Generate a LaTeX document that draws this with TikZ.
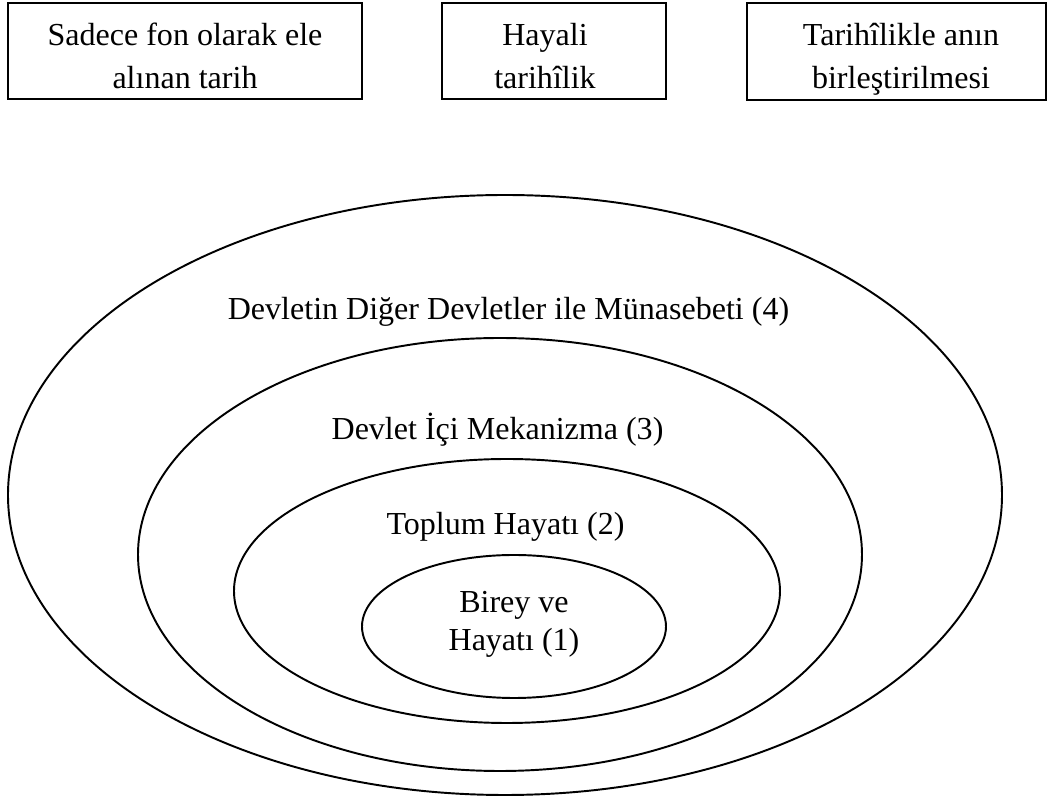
\documentclass[tikz,border=0pt]{standalone}
\usepackage{fontspec}
\setmainfont{Liberation Serif}
\usepackage{tikz}

\begin{document}
\begin{tikzpicture}[x=0.3871pt,y=-0.3871pt,
	kutu/.style={draw,line width=0.75pt,minimum height=37.2pt,inner sep=0pt},
	halka/.style={line width=0.75pt},
	yazi/.style={font=\fontsize{12.4}{16.6}\selectfont,align=center,inner sep=0pt},
	etiket/.style={font=\fontsize{12.4}{14.7}\selectfont,align=center,inner sep=0pt}]
	
	\useasboundingbox (0,0) rectangle (1048,798);
	
	% ust kutular
	\node[kutu,minimum width=137pt] (fon) at (185,51) {};
	\node[kutu,minimum width=86.7pt] (hayal) at (554,51) {};
	\node[kutu,minimum width=115.7pt] (tarih) at (896.5,51.5) {};
	\node[yazi] (fonyazi) at (185,56) {Sadece fon olarak ele\\alınan tarih};
	\node[yazi] (hayalyazi) at (545,56) {Hayali\\tarihîlik};
	\node[yazi] (tarihyazi) at (901,59) {Tarihîlikle anın\\birleştirilmesi};
	
	% ic ice halkalar
	\draw[halka] (505,495) ellipse [x radius=497, y radius=300];
	\draw[halka] (500,554.5) ellipse [x radius=362, y radius=216.5];
	\draw[halka] (507,591) ellipse [x radius=273, y radius=132];
	\draw[halka] (514,626.5) ellipse [x radius=152, y radius=71.5];
	
	\node[etiket,anchor=base] (dort) at (508.5,320) {Devletin Diğer Devletler ile Münasebeti (4)};
	\node[etiket,anchor=base] (uc) at (497.5,440) {Devlet İçi Mekanizma (3)};
	\node[etiket,anchor=base] (iki) at (505.5,535) {Toplum Hayatı (2)};
	\node[etiket] (bir) at (514,624) {Birey ve\\Hayatı (1)};
\end{tikzpicture}
\end{document}
